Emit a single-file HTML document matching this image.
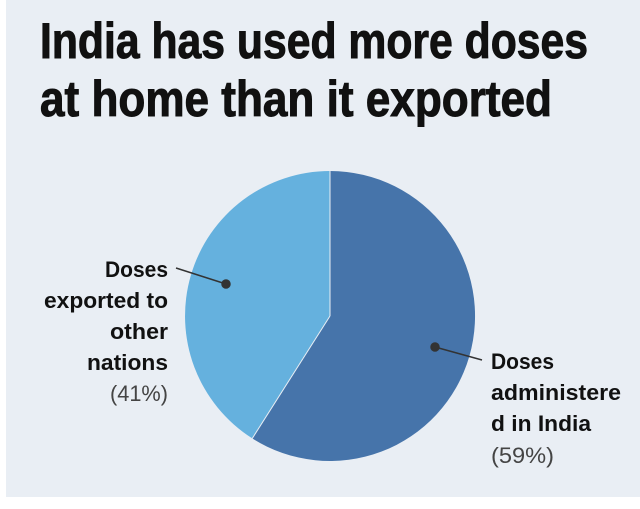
<!DOCTYPE html>
<html><head><meta charset="utf-8"><style>
html,body{margin:0;padding:0;background:#fff;}
svg{display:block;}
</style></head><body>
<svg width="640" height="509" viewBox="0 0 640 509" xmlns="http://www.w3.org/2000/svg">
<rect x="6" y="0" width="634" height="497" fill="#e9eef4"/>
<g font-family="Liberation Sans, sans-serif" font-weight="bold" fill="#111" stroke="#111" stroke-width="1">
<text x="40" y="58" font-size="50" textLength="548" lengthAdjust="spacingAndGlyphs">India has used more doses</text>
<text x="40" y="116" font-size="50" textLength="512" lengthAdjust="spacingAndGlyphs">at home than it exported</text>
</g>
<path d="M330,316 L330,171 A145,145 0 1 1 252.3,438.4 Z" fill="#4674aa"/>
<path d="M330,316 L252.3,438.4 A145,145 0 0 1 330,171 Z" fill="#65b1de"/>
<line x1="330" y1="171" x2="330" y2="316" stroke="#e9eef4" stroke-width="1"/>
<line x1="330" y1="316" x2="252.3" y2="438.4" stroke="#e9eef4" stroke-width="1"/>
<g stroke="#333" stroke-width="1.5" fill="#333">
<line x1="176" y1="268" x2="226" y2="284"/><circle cx="226" cy="284" r="4"/>
<line x1="435" y1="347" x2="482" y2="360"/><circle cx="435" cy="347" r="4"/>
</g>
<g font-family="Liberation Sans, sans-serif" font-size="22" fill="#111">
<g font-weight="bold" text-anchor="end">
<text x="168" y="277" textLength="63" lengthAdjust="spacingAndGlyphs">Doses</text>
<text x="168" y="308" textLength="124" lengthAdjust="spacingAndGlyphs">exported to</text>
<text x="168" y="339" textLength="58" lengthAdjust="spacingAndGlyphs">other</text>
<text x="168" y="370" textLength="81" lengthAdjust="spacingAndGlyphs">nations</text>
</g>
<text x="168" y="401" text-anchor="end" fill="#444" textLength="58" lengthAdjust="spacingAndGlyphs">(41%)</text>
<g font-weight="bold">
<text x="491" y="369" textLength="63" lengthAdjust="spacingAndGlyphs">Doses</text>
<text x="491" y="400" textLength="130" lengthAdjust="spacingAndGlyphs">administere</text>
<text x="491" y="431" textLength="100" lengthAdjust="spacingAndGlyphs">d in India</text>
</g>
<text x="491" y="463" fill="#444" textLength="63" lengthAdjust="spacingAndGlyphs">(59%)</text>
</g>
</svg>
</body></html>
